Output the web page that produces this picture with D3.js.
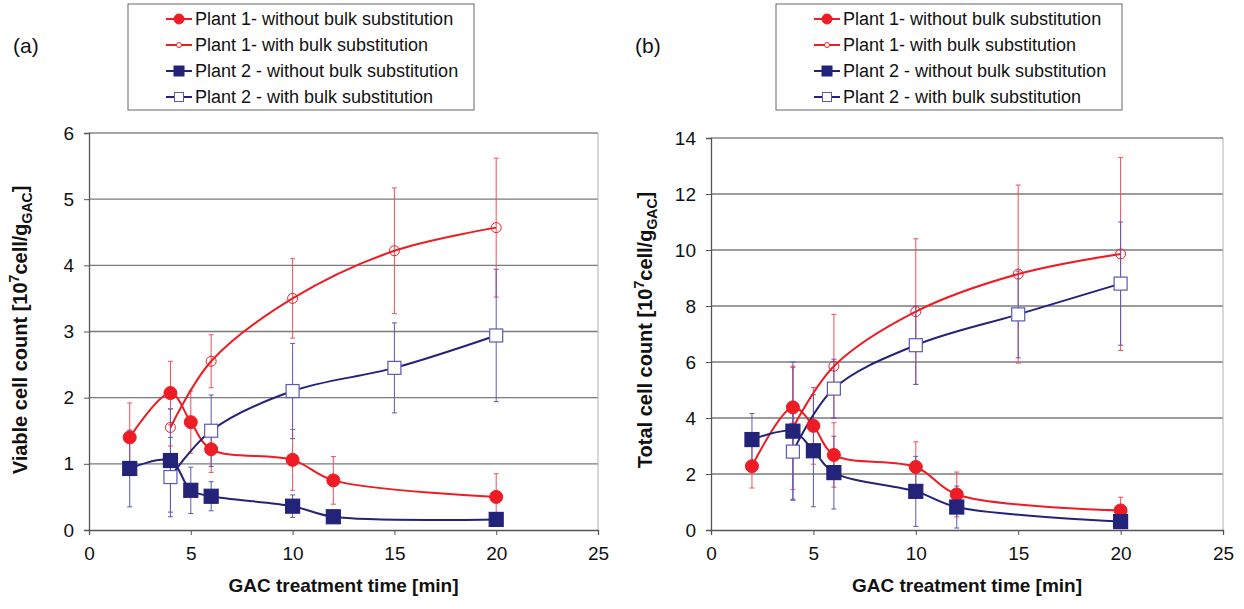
<!DOCTYPE html>
<html><head><meta charset="utf-8">
<script src="https://cdn.jsdelivr.net/npm/d3@7"></script>
<style>body{margin:0;background:#fff;font-family:Arial,"Liberation Sans",sans-serif}</style>
</head><body><svg id="c" width="1244" height="609"></svg>
<script>
const xTicks=[0,5,10,15,20,25];
const legendLabels=["Plant 1- without bulk substitution","Plant 1- with bulk substitution","Plant 2 - without bulk substitution","Plant 2 - with bulk substitution"];
// Panel (a) viable cell count
const aP1woX=[2,4,5,6,10,12,20], aP1wo=[1.40,2.07,1.63,1.22,1.06,0.75,0.50], aP1woErr=[0.52,0.48,0.47,0.35,0.46,0.36,0.35];
const aP1wX=[4,6,10,15,20], aP1w=[1.55,2.55,3.50,4.22,4.57], aP1wErr=[0.28,0.40,0.60,0.95,1.05];
const aP2woX=[2,4,5,6,10,12,20], aP2wo=[0.93,1.05,0.60,0.51,0.36,0.20,0.16], aP2woErr=[0.58,0.78,0.35,0.22,0.17,0.04,0.05];
const aP2wX=[4,6,10,15,20], aP2w=[0.80,1.50,2.10,2.45,2.94], aP2wErr=[0.60,0.54,0.72,0.68,1.00];
// Panel (b) total cell count
const bP1woX=[2,4,5,6,10,12,20], bP1wo=[2.28,4.38,3.72,2.68,2.25,1.27,0.70], bP1woErr=[0.78,1.42,1.37,1.15,0.90,0.80,0.47];
const bP1wX=[4,6,10,15,20], bP1w=[3.65,5.85,7.80,9.14,9.86], bP1wErr=[2.2,1.85,2.60,3.18,3.45];
const bP2woX=[2,4,5,6,10,12,20], bP2wo=[3.23,3.53,2.83,2.05,1.38,0.82,0.30], bP2woErr=[0.93,2.47,2.00,1.30,1.25,0.75,0.08];
const bP2wX=[4,6,10,15,20], bP2w=[2.80,5.05,6.60,7.70,8.80], bP2wErr=[1.70,1.05,1.40,1.55,2.20];

const RED="#ee1c24", BLUE="#23237a", REDE="#f0505a", BLUEE="#5a5ab4";
const svg=d3.select("#c");

function series(xs,ys,es,color,mcolor,ecolor,shape,filled){return {xs,ys,es,color,mcolor,ecolor,shape,filled};}

function marker(g,shape,filled,color,cx,cy){
  if(shape==="circle"){
    const r=filled?6.5:5;
    g.append("circle").attr("cx",cx).attr("cy",cy).attr("r",r)
     .attr("fill",filled?color:"none").attr("stroke",color).attr("stroke-width",1);
  } else {
    const s=filled?14:13;
    g.append("rect").attr("x",cx-s/2).attr("y",cy-s/2).attr("width",s).attr("height",s)
     .attr("fill",filled?color:"#fff").attr("stroke",color).attr("stroke-width",1.2);
  }
}

function panel(opt){
  const g=svg.append("g");
  const x=d3.scaleLinear().domain([0,25]).range([opt.x0,opt.x1]);
  const y=d3.scaleLinear().domain([0,opt.ymax]).range([530,opt.ytop]);
  g.append("g").selectAll("line").data(opt.yTicks.filter(d=>d>0)).join("line")
    .attr("x1",opt.x0).attr("x2",opt.x1).attr("y1",d=>y(d)).attr("y2",d=>y(d))
    .attr("stroke","#7a7a7a").attr("stroke-width",1.3);
  g.append("line").attr("x1",opt.x1).attr("x2",opt.x1).attr("y1",opt.ytop).attr("y2",530).attr("stroke","#b0b0b0");
  g.append("line").attr("x1",opt.x0).attr("x2",opt.x1).attr("y1",opt.ytop).attr("y2",opt.ytop).attr("stroke","#b0b0b0");
  const ax=g.append("g").attr("transform","translate(0,530)").call(d3.axisBottom(x).tickValues(xTicks).tickFormat(d3.format("d")).tickSize(5).tickPadding(12));
  const ay=g.append("g").attr("transform",`translate(${opt.x0},0)`).call(d3.axisLeft(y).tickValues(opt.yTicks).tickFormat(d3.format("d")).tickSize(5).tickPadding(10));
  [ax,ay].forEach(a=>{a.select(".domain").attr("stroke","#555").attr("stroke-width",1.3);
    a.selectAll(".tick line").attr("stroke","#555");
    a.selectAll("text").attr("font-size",19).attr("fill","#111").attr("font-family","Arial, 'Liberation Sans', sans-serif");});
  opt.series.forEach(s=>{
    s.xs.forEach((xv,i)=>{
      const cx=x(xv), top=y(s.ys[i]+s.es[i]), bot=y(Math.max(0,s.ys[i]-s.es[i]));
      g.append("line").attr("x1",cx).attr("x2",cx).attr("y1",top).attr("y2",bot).attr("stroke",s.ecolor).attr("stroke-width",1);
      [top,bot].forEach(yy=>g.append("line").attr("x1",cx-2.5).attr("x2",cx+2.5).attr("y1",yy).attr("y2",yy).attr("stroke",s.ecolor).attr("stroke-width",1));
    });
  });
  const line=d3.line().x(d=>x(d[0])).y(d=>y(d[1])).curve(d3.curveCatmullRom.alpha(0.5));
  opt.series.forEach(s=>{
    g.append("path").attr("d",line(s.xs.map((v,i)=>[v,s.ys[i]]))).attr("fill","none").attr("stroke",s.color).attr("stroke-width",2);
  });
  opt.series.forEach(s=>{
    s.xs.forEach((xv,i)=>marker(g,s.shape,s.filled,s.mcolor,x(xv),y(s.ys[i])));
  });
  const yt=g.append("text").attr("transform",`translate(${opt.ytx},330) rotate(-90)`).attr("text-anchor","middle")
    .attr("font-size",20).attr("font-weight","bold").attr("fill","#111");
  yt.append("tspan").text(opt.ytitle+" [10");
  yt.append("tspan").attr("dy",-8).attr("font-size",14).text("7");
  yt.append("tspan").attr("dy",8).text("cell/g");
  yt.append("tspan").attr("dy",5).attr("font-size",14).text("GAC");
  yt.append("tspan").attr("dy",-5).text("]");
  g.append("text").attr("x",(opt.x0+opt.x1)/2).attr("y",592).attr("text-anchor","middle")
    .attr("font-size",19).attr("font-weight","bold").attr("fill","#111").text("GAC treatment time [min]");
  g.append("text").attr("x",opt.lblx).attr("y",53).attr("font-size",21).attr("fill","#111").text(opt.label);
  const lg=g.append("g").attr("transform",`translate(${opt.legx},4)`);
  lg.append("rect").attr("x",0).attr("y",0).attr("width",346).attr("height",106).attr("fill","#fff").attr("stroke","#666").attr("stroke-width",1);
  opt.series.forEach((s,i)=>{
    const yy=15+i*26;
    lg.append("line").attr("x1",38).attr("x2",64).attr("y1",yy).attr("y2",yy).attr("stroke",s.color).attr("stroke-width",2);
    if(s.shape==="circle") lg.append("circle").attr("cx",51).attr("cy",yy).attr("r",s.filled?5:2.5).attr("fill",s.filled?s.mcolor:"#fff").attr("stroke",s.mcolor);
    else lg.append("rect").attr("x",51-(s.filled?5:4.5)).attr("y",yy-(s.filled?5:4.5)).attr("width",s.filled?10:9).attr("height",s.filled?10:9).attr("fill",s.filled?s.mcolor:"#fff").attr("stroke",s.mcolor);
    lg.append("text").attr("x",67).attr("y",yy+6).attr("font-size",18).attr("fill","#111").text(legendLabels[i]);
  });
}

panel({x0:89,x1:598,ymax:6,ytop:133,yTicks:[0,1,2,3,4,5,6],ytx:27,ytitle:"Viable cell count",lblx:13,label:"(a)",legx:128,
  series:[series(aP1woX,aP1wo,aP1woErr,RED,RED,REDE,"circle",true),series(aP1wX,aP1w,aP1wErr,RED,RED,REDE,"circle",false),
          series(aP2woX,aP2wo,aP2woErr,BLUE,BLUE,BLUEE,"square",true),series(aP2wX,aP2w,aP2wErr,BLUE,BLUEE,BLUEE,"square",false)]});
panel({x0:711,x1:1223,ymax:14,ytop:138,yTicks:[0,2,4,6,8,10,12,14],ytx:652,ytitle:"Total cell count",lblx:635,label:"(b)",legx:776,
  series:[series(bP1woX,bP1wo,bP1woErr,RED,RED,REDE,"circle",true),series(bP1wX,bP1w,bP1wErr,RED,RED,REDE,"circle",false),
          series(bP2woX,bP2wo,bP2woErr,BLUE,BLUE,BLUEE,"square",true),series(bP2wX,bP2w,bP2wErr,BLUE,BLUEE,BLUEE,"square",false)]});
</script></body></html>
